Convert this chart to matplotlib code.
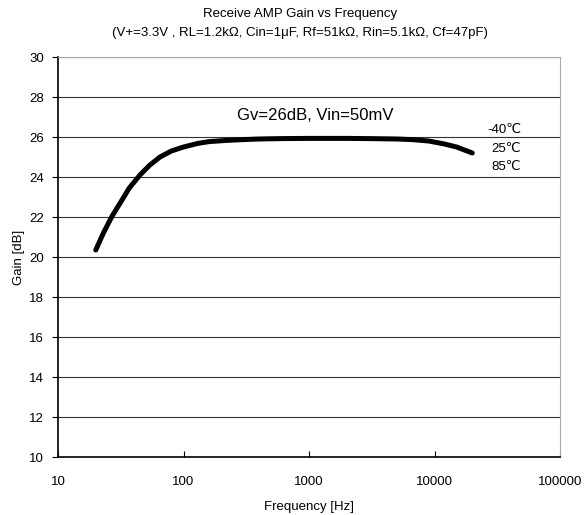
import matplotlib
matplotlib.use("Agg")
import matplotlib.pyplot as plt
from matplotlib.ticker import FixedLocator, NullLocator

plt.rcParams['font.family'] = ['Liberation Sans', 'DejaVu Sans', 'Noto Sans CJK JP']

freq = [20, 23, 27, 32, 37, 45, 54, 65, 80, 100, 130, 160, 220, 300, 400, 600, 1000, 1500, 2000, 3000, 5000, 6600, 9000, 12000, 15000, 20000]
gain = [20.35, 21.2, 22.05, 22.8, 23.45, 24.1, 24.6, 25.0, 25.3, 25.5, 25.68, 25.77, 25.83, 25.87, 25.9, 25.92, 25.93, 25.93, 25.93, 25.92, 25.9, 25.87, 25.8, 25.65, 25.5, 25.2]

x_ticks = [10, 100, 1000, 10000, 100000]
x_labels = ["10", "100", "1000", "10000", "100000"]
y_ticks = [10, 12, 14, 16, 18, 20, 22, 24, 26, 28, 30]
temps = ["-40\u2103", "25\u2103", "85\u2103"]
temp_y = [26.35, 25.4, 24.5]

fig = plt.figure(figsize=(5.84, 5.15), dpi=100)
ax = fig.add_axes([58/584, 58/515, 502/584, 400/515])

ax.plot(freq, gain, color='black', lw=3.6, solid_capstyle='round', solid_joinstyle='round', zorder=3)
ax.set_xscale('log')
ax.set_xlim(10, 100000)
ax.set_ylim(10, 30)
ax.xaxis.set_major_locator(FixedLocator(x_ticks))
ax.xaxis.set_minor_locator(NullLocator())
ax.set_xticklabels(x_labels)
ax.set_yticks(y_ticks)
ax.tick_params(axis='x', direction='in', length=4, labelsize=9.5, pad=14, top=False)
ax.tick_params(axis='y', direction='out', length=4, labelsize=9.5, pad=6)
for y in y_ticks[1:]:
    ax.axhline(y, color='#333333', lw=0.8, zorder=1)
for s in ['top', 'right']:
    ax.spines[s].set_color('#aaaaaa')
for s in ['left', 'bottom']:
    ax.spines[s].set_color('black')
    ax.spines[s].set_linewidth(1.2)

ax.set_xlabel("Frequency [Hz]", fontsize=9.5, labelpad=9)
ax.set_ylabel("Gain [dB]", fontsize=9.5, labelpad=3)

fig.text(0.5 + 8/584, 1 - 14/515, "Receive AMP Gain vs Frequency", ha='center', va='center', fontsize=9.5)
fig.text(0.5 + 8/584, 1 - 33/515, "(V+=3.3V , RL=1.2k\u03a9, Cin=1\u03bcF, Rf=51k\u03a9, Rin=5.1k\u03a9, Cf=47pF)", ha='center', va='center', fontsize=9.5)

ax.text(1120, 27.1, "Gv=26dB, Vin=50mV", ha='center', va='center', fontsize=12)
for t, yv in zip(temps, temp_y):
    ax.text(0.923, yv, t, transform=ax.get_yaxis_transform(), ha='right', va='center', fontsize=9.5)

fig.savefig("out.png", dpi=100)
